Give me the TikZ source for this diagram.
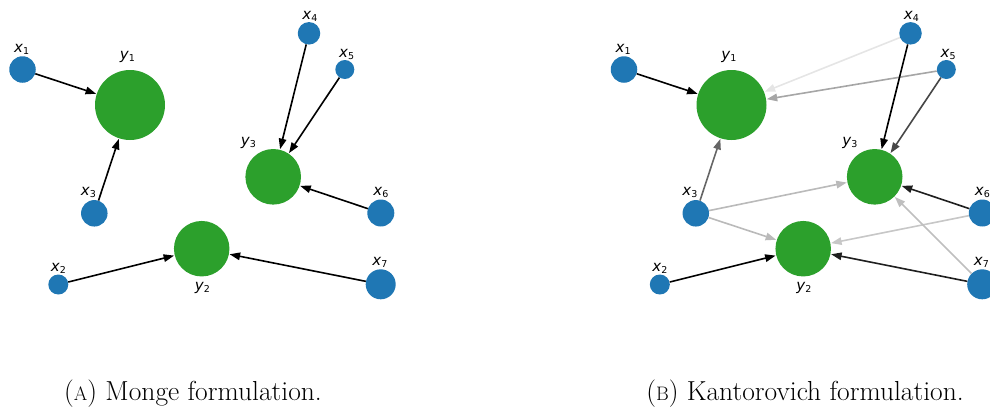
\documentclass[tikz,border=0pt]{standalone}
\usepackage{fontspec}
\newfontfamily\lblfont{DejaVu Sans}
\usetikzlibrary{arrows.meta}

\definecolor{srcblue}{HTML}{1F77B4}
\definecolor{tgtgreen}{HTML}{2CA02C}

% math-style label: oblique letter with upright subscript digit
\newcommand{\vlab}[2]{{\lblfont\fontsize{15}{15}\selectfont\textit{#1}\raisebox{-2pt}{\fontsize{9.5}{9.5}\selectfont #2}}}
% caption letter set as reduced capitals
\newcommand{\sclab}[1]{{\fontsize{19.5}{19.5}\selectfont #1}}

\tikzset{
  src/.style={circle, fill=srcblue, draw=none, inner sep=0pt, minimum size=#1},
  tgt/.style={circle, fill=tgtgreen, draw=none, inner sep=0pt, minimum size=#1},
  lbl/.style={inner sep=0pt, anchor=center},
  flow/.style={draw=#1, line width=1.6pt,
    -{Triangle[length=10.5pt,width=7.5pt,fill=#1]}, shorten >=0.5pt},
  flow/.default=black,
  capt/.style={inner sep=0pt, anchor=base, font=\fontsize{27.5}{27.5}\selectfont}
}

\begin{document}
\begin{tikzpicture}[x=1pt, y=-1pt]
\useasboundingbox (0,0) rectangle (990,410);

% ---------------- (a) Monge ----------------
\begin{scope}
  \node[src=26.5pt] (ax1) at (22.5,69.5) {};
  \node[src=20pt]   (ax2) at (58.3,284.5) {};
  \node[src=26.5pt] (ax3) at (94.3,213.3) {};
  \node[src=22.5pt] (ax4) at (309,33.3) {};
  \node[src=19pt]   (ax5) at (344.8,69.5) {};
  \node[src=27pt]   (ax6) at (380.8,213) {};
  \node[src=30pt]   (ax7) at (380.7,284.3) {};
  \node[tgt=70pt]   (ay1) at (130,105) {};
  \node[tgt=55.5pt] (ay2) at (201.7,248.7) {};
  \node[tgt=55.6pt] (ay3) at (273.2,176.8) {};

  \node[lbl] (alx1) at (21.7,49.3) {\vlab{x}{1}};
  \node[lbl] (aly1) at (127.3,57.3) {\vlab{y}{1}};
  \node[lbl] (alx3) at (88.3,192.7) {\vlab{x}{3}};
  \node[lbl] (alx4) at (310,16) {\vlab{x}{4}};
  \node[lbl] (alx5) at (346.7,54.3) {\vlab{x}{5}};
  \node[lbl] (aly3) at (248.3,143.3) {\vlab{y}{3}};
  \node[lbl] (alx6) at (381,192.7) {\vlab{x}{6}};
  \node[lbl] (alx2) at (58.3,268.3) {\vlab{x}{2}};
  \node[lbl] (aly2) at (202.3,288.3) {\vlab{y}{2}};
  \node[lbl] (alx7) at (380,262.7) {\vlab{x}{7}};

  \draw[flow] (ax1) -- (ay1);
  \draw[flow] (ax3) -- (ay1);
  \draw[flow] (ax4) -- (ay3);
  \draw[flow] (ax5) -- (ay3);
  \draw[flow] (ax6) -- (ay3);
  \draw[flow] (ax2) -- (ay2);
  \draw[flow] (ax7) -- (ay2);

  \node[capt] (capa) at (193,400) {(\sclab{A}) Monge formulation.};
\end{scope}

% ---------------- (b) Kantorovich ----------------
\begin{scope}[xshift=601.5pt]
  \node[src=26.5pt] (bx1) at (22.5,69.5) {};
  \node[src=20pt]   (bx2) at (58.3,284.5) {};
  \node[src=26.5pt] (bx3) at (94.3,213.3) {};
  \node[src=22.5pt] (bx4) at (309,33.3) {};
  \node[src=19pt]   (bx5) at (344.8,69.5) {};
  \node[src=27pt]   (bx6) at (380.8,213) {};
  \node[src=30pt]   (bx7) at (380.7,284.3) {};
  \node[tgt=70pt]   (by1) at (130,105) {};
  \node[tgt=55.5pt] (by2) at (201.7,248.7) {};
  \node[tgt=55.6pt] (by3) at (273.2,176.8) {};

  \node[lbl] (blx1) at (21.7,49.3) {\vlab{x}{1}};
  \node[lbl] (bly1) at (127.3,57.3) {\vlab{y}{1}};
  \node[lbl] (blx3) at (88.3,192.7) {\vlab{x}{3}};
  \node[lbl] (blx4) at (310,16) {\vlab{x}{4}};
  \node[lbl] (blx5) at (346.7,54.3) {\vlab{x}{5}};
  \node[lbl] (bly3) at (248.3,143.3) {\vlab{y}{3}};
  \node[lbl] (blx6) at (381,192.7) {\vlab{x}{6}};
  \node[lbl] (blx2) at (58.3,268.3) {\vlab{x}{2}};
  \node[lbl] (bly2) at (202.3,288.3) {\vlab{y}{2}};
  \node[lbl] (blx7) at (380,262.7) {\vlab{x}{7}};

  % transport plan, shade ~ amount of mass moved
  \draw[flow=black!10] (bx4) -- (by1);
  \draw[flow=black!35] (bx5) -- (by1);
  \draw[flow=black!27] (bx3) -- (by3);
  \draw[flow=black!27] (bx3) -- (by2);
  \draw[flow=black!22] (bx6) -- (by2);
  \draw[flow=black!25] (bx7) -- (by3);
  \draw[flow=black!60] (bx3) -- (by1);
  \draw[flow=black!72] (bx5) -- (by3);
  \draw[flow=black!88] (bx6) -- (by3);
  \draw[flow=black!88] (bx7) -- (by2);
  \draw[flow] (bx1) -- (by1);
  \draw[flow] (bx4) -- (by3);
  \draw[flow] (bx2) -- (by2);

  \node[capt] (capb) at (203.5,400) {(\sclab{B}) Kantorovich formulation.};
\end{scope}
\end{tikzpicture}
\end{document}
